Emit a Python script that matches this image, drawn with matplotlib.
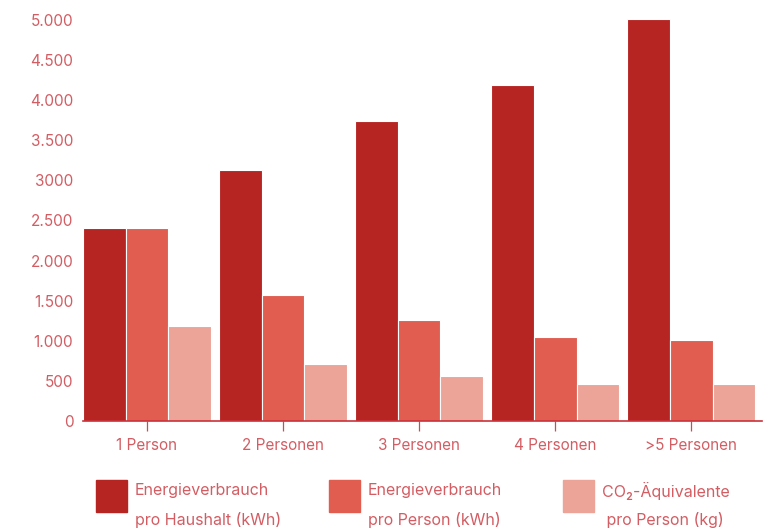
import numpy as np
import matplotlib.pyplot as plt
from matplotlib.patches import Rectangle
from matplotlib.ticker import FixedLocator

plt.rcParams['font.family'] = ['Inter', 'DejaVu Sans']

categories = ['1 Person', '2 Personen', '3 Personen', '4 Personen', '>5 Personen']
haushalt_kwh = [2400, 3125, 3745, 4185, 5010]
person_kwh = [2400, 1570, 1255, 1045, 1005]
co2_kg = [1180, 705, 555, 465, 465]

yticks = [0, 500, 1000, 1500, 2000, 2500, 3000, 3500, 4000, 4500, 5000]
ytick_labels = ['0', '500', '1.000', '1.500', '2.000', '2.500', '3000',
                '3.500', '4.000', '4.500', '5.000']

legend_labels = [('Energieverbrauch', 'pro Haushalt (kWh)'),
                 ('Energieverbrauch', 'pro Person (kWh)'),
                 ('CO\u2082-Äquivalente', ' pro Person (kg)')]

c_dark = '#B72522'
c_mid = '#E05D50'
c_light = '#EBA497'
c_text = '#D35D63'

fig = plt.figure(figsize=(7.76, 5.31), dpi=100)
ax = fig.add_axes([83 / 776, 1 - 421 / 531, (762 - 83) / 776, (421 - 19) / 531])

x = np.arange(len(categories))
w = 0.314
ax.bar(x - w, haushalt_kwh, w, color=c_dark, edgecolor='white', linewidth=0.8)
ax.bar(x, person_kwh, w, color=c_mid, edgecolor='white', linewidth=0.8)
ax.bar(x + w, co2_kg, w, color=c_light, edgecolor='white', linewidth=0.8)

ax.set_xlim(-0.47, 4.52)
ax.set_ylim(0, 5010)

for s in ['top', 'right', 'left']:
    ax.spines[s].set_visible(False)
ax.spines['bottom'].set_color('#C8323A')
ax.spines['bottom'].set_linewidth(1.2)

ax.set_xticks(x)
ax.set_xticklabels(categories)
ax.tick_params(axis='x', colors='#D04A50', length=7, width=0.9, labelcolor=c_text,
               labelsize=11, pad=5)
ax.yaxis.set_major_locator(FixedLocator(yticks))
ax.set_yticklabels(ytick_labels)
ax.tick_params(axis='y', length=0, labelcolor=c_text, labelsize=11, pad=7)

legend_colors = [c_dark, c_mid, c_light]
legend_x = [96, 329, 563]
for lx, col, (l1, l2) in zip(legend_x, legend_colors, legend_labels):
    fig.patches.append(Rectangle((lx / 776, 1 - 512 / 531), 31 / 776, 32 / 531,
                                 transform=fig.transFigure, color=col))
    fig.text((lx + 39) / 776, 1 - 491 / 531, l1, color=c_text, fontsize=11.5, va='center')
    fig.text((lx + 39) / 776, 1 - 520 / 531, l2, color=c_text, fontsize=11.5, va='center')

fig.savefig('out.png', dpi=100)
